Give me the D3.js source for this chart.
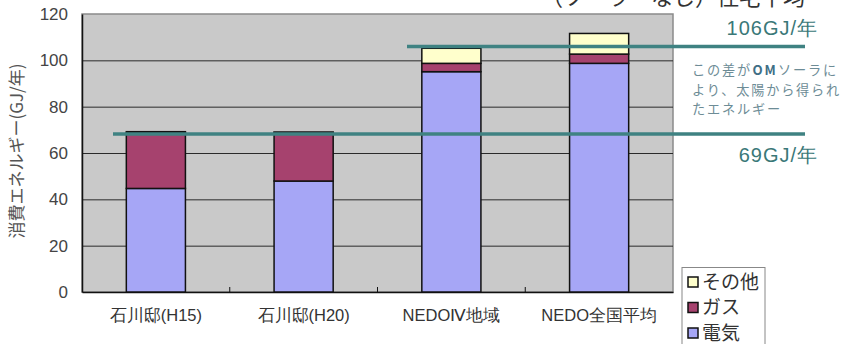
<!DOCTYPE html>
<html><head><meta charset="utf-8">
<script src="https://cdn.jsdelivr.net/npm/d3@7"></script>
<style>body{margin:0;background:#fff;}svg{display:block;font-family:"Noto Sans CJK JP","Noto Sans",sans-serif;}</style>
</head><body>
<svg id="c" width="848" height="344"></svg>
<script>
const categories = ["石川邸(H15)", "石川邸(H20)", "NEDOⅣ地域", "NEDO全国平均"];
const electricity = [44.7, 47.9, 95.1, 98.7];
const gas = [24.1, 21.0, 3.6, 4.0];
const other = [0.4, 0.1, 6.5, 8.9];
const seriesNames = ["電気", "ガス", "その他"];
const yTicks = [0, 20, 40, 60, 80, 100, 120];
const refValues = [68.2, 106];
const refLabels = ["69GJ/年", "106GJ/年"];
const noteLines = [["この差が", "OM", "ソーラに"], ["より、太陽から得られ"], ["たエネルギー"]];

const colors = {"電気": "#a6a6f6", "ガス": "#a6426e", "その他": "#ffffcc"};
const svg = d3.select("#c");
const m = {l: 82, t: 14, r: 673, b: 292};
const x = d3.scaleBand().domain(categories).range([m.l, m.r]).paddingInner(0.6).paddingOuter(0.3);
const xb = d3.scaleBand().domain(categories).range([m.l, m.r]);
const y = d3.scaleLinear().domain([0, 120]).range([m.b, m.t]);

// plot background
svg.append("rect").attr("x", m.l).attr("y", m.t).attr("width", m.r - m.l).attr("height", m.b - m.t)
  .attr("fill", "#c9c9c9").attr("stroke", "#8a8a8a").attr("stroke-width", 1.5);

// gridlines
svg.append("g").selectAll("line").data(yTicks.filter(d => d > 0 && d < 120)).join("line")
  .attr("x1", m.l).attr("x2", m.r).attr("y1", d => y(d) + 0.5).attr("y2", d => y(d) + 0.5)
  .attr("stroke", "#2a2a2a").attr("stroke-width", 1);

// y axis
const ya = svg.append("g").attr("transform", `translate(${m.l},0)`)
  .call(d3.axisLeft(y).tickValues(yTicks).tickSize(0).tickPadding(14));
ya.select(".domain").attr("stroke", "#111").attr("stroke-width", 1.5);
ya.selectAll("text").attr("font-size", 17).attr("fill", "#444").attr("font-family", "Liberation Sans, Arial, sans-serif");

// x axis
const xa = svg.append("g").attr("transform", `translate(0,${m.b})`)
  .call(d3.axisBottom(xb).tickSize(0).tickPadding(17));
xa.select(".domain").attr("stroke", "#111").attr("stroke-width", 1.5);
xa.selectAll("text").attr("font-size", 16.5).attr("fill", "#333");
// category separator tick marks
svg.append("g").selectAll("line").data(categories.slice(1)).join("line")
  .attr("x1", d => xb(d)).attr("x2", d => xb(d)).attr("y1", m.b).attr("y2", m.b - 5)
  .attr("stroke", "#111");

// stacked bars
const rows = categories.map((c, i) => ({cat: c, "電気": electricity[i], "ガス": gas[i], "その他": other[i]}));
const stack = d3.stack().keys(seriesNames)(rows);
svg.append("g").selectAll("g").data(stack).join("g").attr("fill", d => colors[d.key])
  .selectAll("rect").data(d => d).join("rect")
  .attr("x", d => x(d.data.cat)).attr("width", x.bandwidth())
  .attr("y", d => y(d[1])).attr("height", d => y(d[0]) - y(d[1]))
  .attr("stroke", "#111").attr("stroke-width", 1.5);

// reference lines
const refX = [[113, 805], [407, 805]];
svg.append("g").selectAll("line").data(refValues).join("line")
  .attr("x1", (d, i) => refX[i][0]).attr("x2", (d, i) => refX[i][1])
  .attr("y1", d => y(d)).attr("y2", d => y(d))
  .attr("stroke", "#3f8282").attr("stroke-width", 3.5);

// reference labels
const labelY = [162, 35];
svg.append("g").selectAll("text").data(refLabels).join("text")
  .attr("x", 818).attr("y", (d, i) => labelY[i]).attr("text-anchor", "end")
  .attr("font-size", 20).attr("letter-spacing", 1).attr("fill", "#3a7878")
  .attr("font-family", "Liberation Sans, Arial, sans-serif")
  .text(d => d);

// note (each piece its own text element)
const noteG = svg.append("g");
noteLines.forEach((parts, i) => {
  let cx = 692;
  parts.forEach((p, j) => {
    const bold = parts.length > 1 && j === 1;
    const t = noteG.append("text").attr("x", cx).attr("y", 75 + i * 19.5)
      .attr("font-size", 13.2).attr("letter-spacing", 1.8)
      .attr("fill", bold ? "#3f6f86" : "#6d8c96")
      .attr("font-weight", bold ? "bold" : null).text(p);
    cx += t.node().getComputedTextLength() + 0.5;
  });
});

// cut-off title fragment at top right
svg.append("text").attr("x", 805).attr("y", 5).attr("text-anchor", "end")
  .attr("font-size", 22).attr("fill", "#333").text("（ソーラーなし）住宅平均");

// y axis title
svg.append("text").attr("transform", "translate(23,151) rotate(-90)")
  .attr("text-anchor", "middle").attr("font-size", 17).attr("fill", "#555")
  .text("消費エネルギー(GJ/年)");

// legend
const lg = svg.append("g");
lg.append("rect").attr("x", 682).attr("y", 267.5).attr("width", 83).attr("height", 90)
  .attr("fill", "#fff").attr("stroke", "#888").attr("stroke-width", 1);
const legendOrder = ["その他", "ガス", "電気"];
legendOrder.forEach((k, i) => {
  const cy = 282 + i * 25.5;
  lg.append("rect").attr("x", 688).attr("y", cy - 5).attr("width", 10).attr("height", 10)
    .attr("fill", colors[k]).attr("stroke", "#111").attr("stroke-width", 1.5);
  lg.append("text").attr("x", 702).attr("y", cy + 6.5).attr("font-size", 19).attr("fill", "#333").text(k);
});
</script>
</body></html>
